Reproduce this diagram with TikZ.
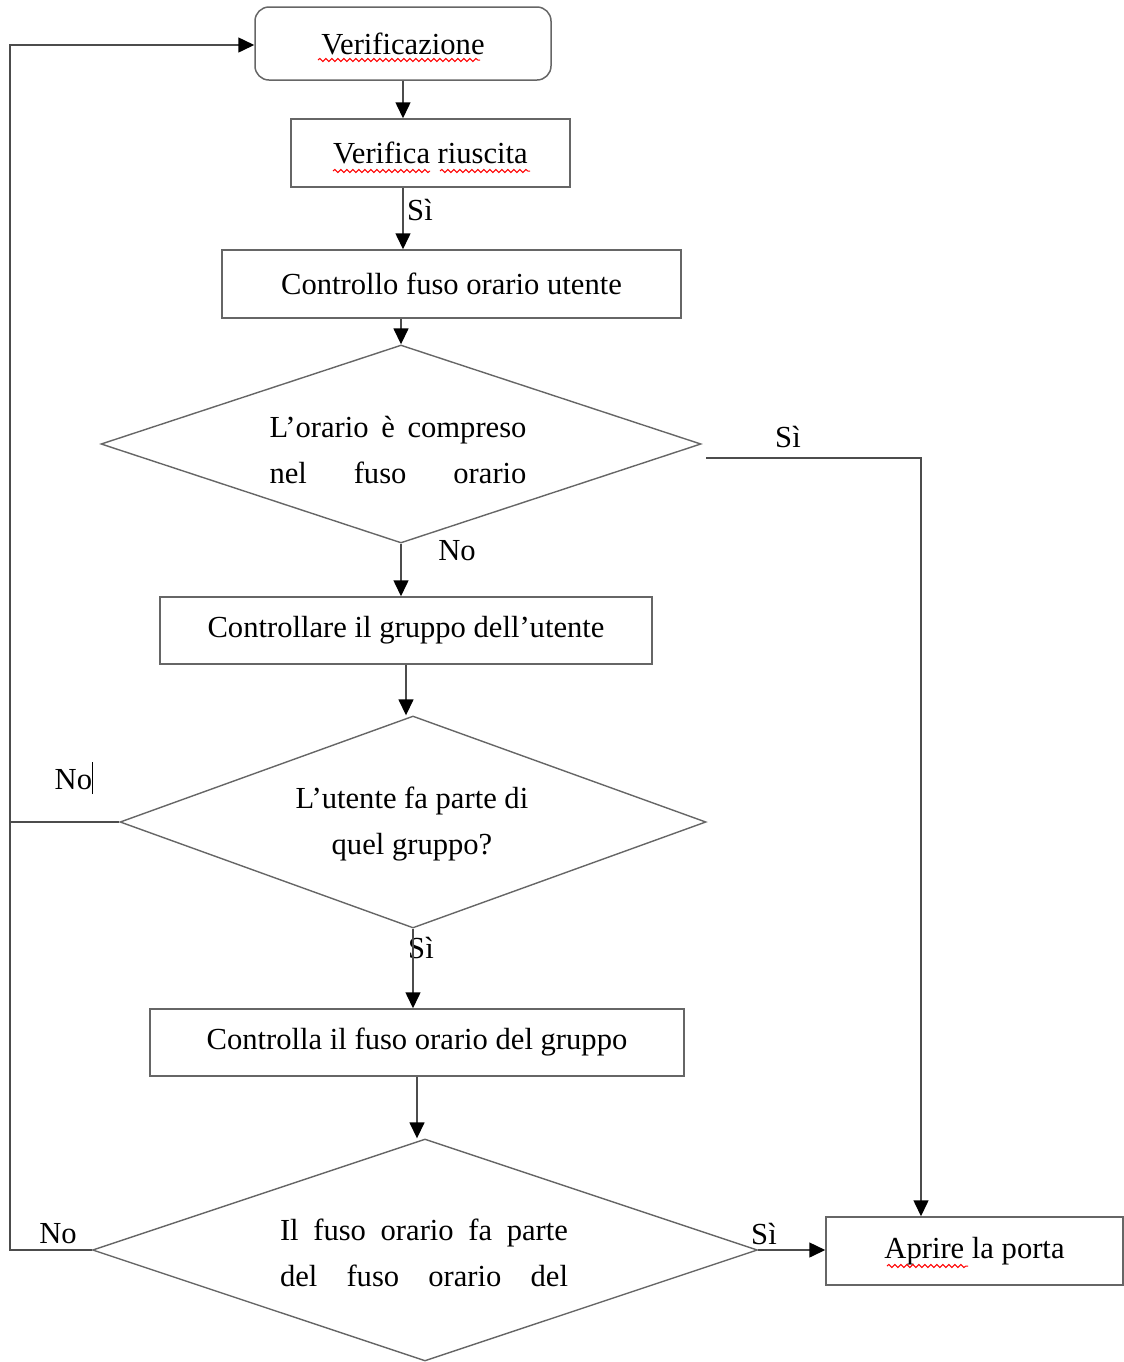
\documentclass[tikz,border=0pt]{standalone}
\usepackage{fontspec}
\setmainfont{Liberation Serif}
\usetikzlibrary{shapes.geometric,arrows.meta,decorations.pathmorphing}

\begin{document}
\begin{tikzpicture}[x=0.5pt, y=-0.5pt, >={Triangle[length=8pt,width=7.5pt,color=black]},
  every node/.style={font=\fontsize{15.3}{23}\selectfont},
  stepbox/.style={draw=black!60, line width=0.75pt, minimum height=34pt, inner sep=0pt},
  decision/.style={draw=black!60, line width=0.7pt, diamond, inner sep=0pt},
  flow/.style={draw=black!70, line width=0.75pt},
  spell/.style={red, line width=0.5pt, decorate, decoration={snake, amplitude=0.8pt, segment length=3pt}}]

\useasboundingbox (0,0) rectangle (1124,1362);

% Steps
\node[stepbox, rounded corners=7pt, minimum width=148pt, minimum height=36.5pt] (verif) at (403,43.5) {Verificazione};
\node[stepbox, minimum width=139.5pt] (riusc) at (430.5,153) {Verifica riuscita};
\node[stepbox, minimum width=229.5pt] (fusout) at (451.5,284) {Controllo fuso orario utente};
\node[stepbox, minimum width=246pt, minimum height=33.5pt] (gruppo) at (406,630.5) {Controllare il gruppo dell’utente};
\node[stepbox, minimum width=267pt, minimum height=33.5pt] (fusogr) at (417,1042.5) {Controlla il fuso orario del gruppo};
\node[stepbox, minimum width=148.5pt] (porta) at (974.5,1251) {Aprire la porta};

% Decisions
\node[decision, minimum width=300pt, minimum height=99pt] (d1) at (401,444) {};
\node[align=center] (d1txt) at (398,450) {\makebox[128.5pt][s]{L’orario è compreso}\\\makebox[128.5pt][s]{nel fuso orario}};
\node[decision, minimum width=293pt, minimum height=106pt] (d2) at (413,822) {};
\node[align=center] (d2txt) at (412,824) {L’utente fa parte di\\quel gruppo?};
\node[decision, minimum width=332.5pt, minimum height=111pt] (d3) at (425,1250) {};
\node[align=center] (d3txt) at (424,1253) {\makebox[144pt][s]{Il fuso orario fa parte}\\\makebox[144pt][s]{del fuso orario del}};

% Answers
\node (si1) at (420,210) {Sì};
\node (si2) at (788,437) {Sì};
\node (no1) at (457,551) {No};
\node (no2) at (74,778) {No\rule[-0.3ex]{0.6pt}{1.05em}};
\node (si3) at (421,948) {Sì};
\node (no3) at (58,1234) {No};
\node (si4) at (764,1234) {Sì};

% Helper points
\coordinate (ltop) at (10,45);
\coordinate (d1out) at (706,458);
\path (porta.north) ++(-53.5,0) coordinate (portain);

% Main flow
\draw[flow, ->] (verif.south) -- (verif.south |- riusc.north);
\draw[flow, ->] (riusc.south -| verif.south) -- (verif.south |- fusout.north);
\draw[flow, ->] (fusout.south -| d1.north) -- (d1.north);
\draw[flow, ->] (d1.south) -- (d1.south |- gruppo.north);
\draw[flow, ->] (gruppo.south) -- (gruppo.south |- d2.north);
\draw[flow, ->] (d2.south) -- (d2.south |- fusogr.north);
\draw[flow, ->] (fusogr.south) -- (fusogr.south |- d3.north);

% Yes branches
\draw[flow, ->] (d1out) -| (portain);
\draw[flow, ->] (d3.east) -- (d3.east -| porta.west);

% No branches back to start
\draw[flow, ->] (d3.west) -| (ltop) -- (ltop -| verif.west);
\draw[flow] (d2.west) -- (d2.west -| ltop);

% Spelling marks
\draw[spell] (318,60) -- (480,60);
\draw[spell] (333,171) -- (430,171);
\draw[spell] (440,171) -- (530,171);
\draw[spell] (887,1266) -- (968,1266);

\end{tikzpicture}
\end{document}
